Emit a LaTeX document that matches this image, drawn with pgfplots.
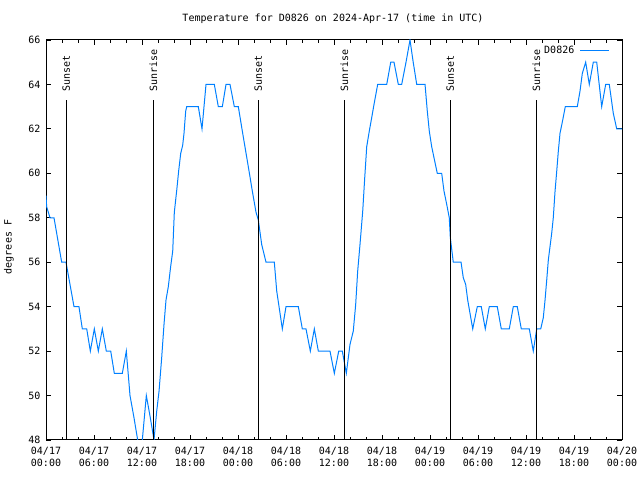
\documentclass[border=0pt]{standalone}
\usepackage{fontspec}
\setmainfont{DejaVu Sans Mono}
\usepackage{pgfplots}
\pgfplotsset{compat=1.18}
\definecolor{tempblue}{RGB}{0,128,255}
\begin{document}
\fontsize{10bp}{12bp}\selectfont
\begin{tikzpicture}[x=1bp,y=1bp]
\useasboundingbox (0,0) rectangle (640,480);
\begin{axis}[
  at={(46bp,40bp)}, anchor=south west,
  scale only axis, width=576bp, height=400bp,
  xmin=0, xmax=72, ymin=48, ymax=66,
  axis line style={line width=1bp},
  every tick/.style={black, line width=0.8bp},
  tick align=inside,
  major tick length=5bp, minor tick length=2.7bp,
  xtick={0,6,...,72},
  minor xtick={0,2,...,72},
  xticklabels={{04/17\\00:00},{04/17\\06:00},{04/17\\12:00},{04/17\\18:00},{04/18\\00:00},{04/18\\06:00},{04/18\\12:00},{04/18\\18:00},{04/19\\00:00},{04/19\\06:00},{04/19\\12:00},{04/19\\18:00},{04/20\\00:00}},
  xticklabel style={align=center, font=\fontsize{10bp}{12bp}\selectfont, yshift=-4bp},
  ytick={48,50,...,66},
  yticklabel style={font=\fontsize{10bp}{12bp}\selectfont, xshift=-2bp},
  /pgf/number format/assume math mode=true,
  legend style={at={(1,1)}, anchor=north east, xshift=-11bp, yshift=-3bp, draw=none, fill=none, inner sep=1bp, column sep=3.5bp, font=\fontsize{10bp}{12bp}\selectfont},
  legend plot pos=right,
  legend cell align=right,
  legend image code/.code={\draw[#1] (0bp,0bp) -- (29bp,0bp);},
]
\addplot[tempblue, line width=1bp] coordinates {
(0,59) (0.08,58.5) (0.5,58) (1.0,58) (1.96,56) (2.5,56) (3.5,54) (4.12,54) (4.54,53) (5.09,53) (5.54,52) (6.04,53) (6.54,52) (7.04,53) (7.54,52) (8.09,52) (8.54,51) (9.54,51) (10.04,52) (10.5,50) (11.0,49) (11.46,48) (11.75,47.3) (12.04,48) (12.54,50) (13.04,49) (13.5,48) (13.84,49.3) (14.13,50.2) (14.46,51.7) (14.75,53.2) (15.0,54.3) (15.29,54.9) (15.58,55.8) (15.84,56.5) (16.04,58.25) (16.33,59.2) (16.58,60.1) (16.84,60.9) (17.08,61.25) (17.25,61.8) (17.46,62.8) (17.59,63) (19.04,63) (19.5,62) (20.0,64) (21.04,64) (21.54,63) (22.04,63) (22.5,64) (23.0,64) (23.54,63) (24.04,63) (24.54,61.9) (24.96,61.0) (25.38,60.1) (25.79,59.2) (26.25,58.25) (26.54,57.9) (26.96,56.8) (27.5,56) (28.54,56) (28.84,54.7) (29.13,54) (29.54,53) (30.0,54) (31.54,54) (32.04,53) (32.5,53) (33.04,52) (33.54,53) (34.04,52) (35.5,52) (36.04,51) (36.59,52) (37.04,52) (37.54,51) (38.0,52.3) (38.41,52.9) (38.71,54.1) (38.96,55.6) (39.25,56.8) (39.59,58.3) (39.84,59.8) (40.09,61.2) (40.41,61.9) (40.71,62.5) (41.0,63.1) (41.46,64) (42.59,64) (43.09,65) (43.5,65) (44.04,64) (44.46,64) (45.0,65) (45.5,66) (45.9,65) (46.34,64) (47.38,64) (47.66,62.8) (47.91,61.9) (48.21,61.2) (48.5,60.7) (48.91,60) (49.46,60) (49.75,59.2) (50.09,58.6) (50.41,58) (50.54,57.1) (50.91,56) (51.88,56) (52.16,55.3) (52.46,55) (52.71,54.3) (53.0,53.7) (53.34,53) (53.91,54) (54.41,54) (54.91,53) (55.41,54) (56.41,54) (56.91,53) (57.91,53) (58.41,54) (58.91,54) (59.41,53) (60.41,53) (60.91,52) (61.34,53) (61.84,53) (62.16,53.5) (62.38,54.3) (62.59,55.2) (62.79,56.1) (63.21,57.3) (63.41,58) (63.63,59.2) (63.84,60.1) (64.04,61) (64.25,61.8) (64.59,62.4) (64.91,63) (66.41,63) (66.75,63.7) (67.04,64.5) (67.46,65) (67.91,64) (68.41,65) (68.84,65) (69.46,63) (69.96,64) (70.41,64) (70.91,62.7) (71.34,62) (72,62)
};
\addlegendentry{D0826}
\addplot[black, line width=1bp, forget plot] coordinates {(2.54,48) (2.54,63.32)};
\addplot[black, line width=1bp, forget plot] coordinates {(13.41,48) (13.41,63.32)};
\addplot[black, line width=1bp, forget plot] coordinates {(26.54,48) (26.54,63.32)};
\addplot[black, line width=1bp, forget plot] coordinates {(37.29,48) (37.29,63.32)};
\addplot[black, line width=1bp, forget plot] coordinates {(50.54,48) (50.54,63.32)};
\addplot[black, line width=1bp, forget plot] coordinates {(61.29,48) (61.29,63.32)};
\node[rotate=90, anchor=west, inner sep=0pt, xshift=1bp] at (axis cs:2.54,63.64) {Sunset};
\node[rotate=90, anchor=west, inner sep=0pt, xshift=1bp] at (axis cs:13.41,63.64) {Sunrise};
\node[rotate=90, anchor=west, inner sep=0pt, xshift=1bp] at (axis cs:26.54,63.64) {Sunset};
\node[rotate=90, anchor=west, inner sep=0pt, xshift=1bp] at (axis cs:37.29,63.64) {Sunrise};
\node[rotate=90, anchor=west, inner sep=0pt, xshift=1bp] at (axis cs:50.54,63.64) {Sunset};
\node[rotate=90, anchor=west, inner sep=0pt, xshift=1bp] at (axis cs:61.29,63.64) {Sunrise};
\end{axis}
\node at (333,461) {Temperature for D0826 on 2024-Apr-17 (time in UTC)};
\node[rotate=90] at (9,233) {degrees F};
\end{tikzpicture}
\end{document}
